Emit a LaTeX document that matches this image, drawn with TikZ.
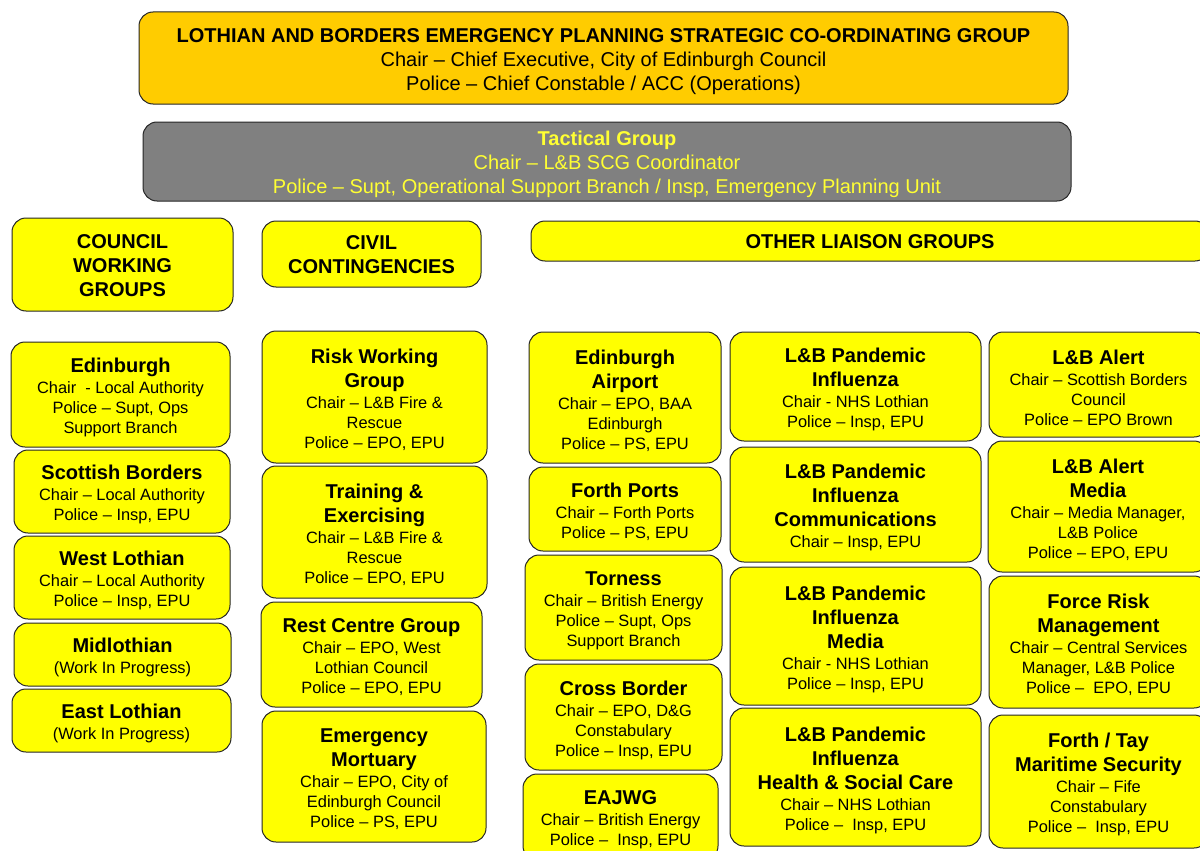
\documentclass[tikz,border=0pt]{standalone}
\usepackage{fontspec}
\setmainfont{Liberation Sans}
\definecolor{scgorange}{HTML}{FFCC00}
\definecolor{tacgray}{HTML}{808080}
\definecolor{grpyellow}{HTML}{FFFF00}
\definecolor{tacyellow}{HTML}{FFFF33}
% body text of the group boxes
\newcommand\grpfont{\lineskiplimit=-100pt\fontsize{16.4}{20}\selectfont}
% wide text of the two header boxes
\newcommand\wideFont{\lineskiplimit=-100pt\fontsize{20}{24}\selectfont}
% bold group title line
\newcommand\hdline[1]{{\fontsize{20}{24}\selectfont\bfseries #1}}
% \orgbox[style]{name}{left}{top}{right}{bottom}{text}
% draws the rounded box, then its text as a second node on top
\newcommand\orgbox[7][grp]{%
  \node[#1, minimum width={#5-#3}, minimum height={#6-#4}] (#2)
    at ({(#3+#5)/2},{(#4+#6)/2}) {};
  \node[#1 text] (#2-text) at (#2.center) {#7};}

\begin{document}
\begin{tikzpicture}[x=1pt,y=-1pt,
  grp/.style={draw=black!85, line width=1pt, fill=grpyellow,
    rounded corners=14pt, inner sep=0pt},
  base text/.style={inner sep=0pt, align=center, font=\grpfont},
  grp text/.style={base text, yshift=-3pt},
  titlebox/.style={grp},
  titlebox text/.style={base text, font=\wideFont\bfseries, yshift=-1pt},
  topbox/.style={grp, fill=scgorange},
  topbox text/.style={base text, font=\wideFont, yshift=-4pt},
  tacbox/.style={grp, fill=tacgray},
  tacbox text/.style={base text, text=tacyellow, font=\wideFont, yshift=-3pt}]
\useasboundingbox (0,0) rectangle (1200,851);
\clip (0,0) rectangle (1200,851);

% strategic and tactical levels
\orgbox[topbox]{scg}{139}{12}{1068}{104}{\textbf{LOTHIAN AND BORDERS EMERGENCY PLANNING STRATEGIC CO-ORDINATING GROUP}\\Chair – Chief Executive, City of Edinburgh Council\\Police – Chief Constable / ACC (Operations)}
\orgbox[tacbox]{tac}{143}{122}{1071}{201}{\textbf{Tactical Group}\\Chair – L\&B SCG Coordinator\\Police – Supt, Operational Support Branch / Insp, Emergency Planning Unit}

% column headings
\orgbox[titlebox]{cwg}{12}{218}{233}{311}{COUNCIL\\WORKING\\GROUPS}
\orgbox[titlebox]{civ}{262}{221}{481}{287}{CIVIL\\CONTINGENCIES}
\orgbox[titlebox]{olg}{531}{221}{1209}{261}{OTHER LIAISON GROUPS}

% council working groups
\orgbox{edi}{11}{342}{230}{447}{\hdline{Edinburgh}\\[1pt]Chair\ \ - Local Authority\\Police – Supt, Ops\\Support Branch}
\orgbox{sbo}{14}{450}{230}{533}{\hdline{Scottish Borders}\\[1pt]Chair – Local Authority\\Police – Insp, EPU}
\orgbox{wlo}{14}{536}{230}{619}{\hdline{West Lothian}\\[1pt]Chair – Local Authority\\Police – Insp, EPU}
\orgbox{mid}{14}{623}{231}{686}{\hdline{Midlothian}\\[1pt](Work In Progress)}
\orgbox{elo}{12}{689}{231}{752}{\hdline{East Lothian}\\[1pt](Work In Progress)}

% civil contingencies
\orgbox{rwg}{262}{331}{487}{463}{\hdline{Risk Working}\\[4pt]\hdline{Group}\\[1pt]Chair – L\&B Fire \&\\Rescue\\Police – EPO, EPU}
\orgbox{tex}{262}{466}{487}{598}{\hdline{Training \&}\\[4pt]\hdline{Exercising}\\[1pt]Chair – L\&B Fire \&\\Rescue\\Police – EPO, EPU}
\orgbox{rcg}{261}{602}{482}{707}{\hdline{Rest Centre Group}\\[1pt]Chair – EPO, West\\Lothian Council\\Police – EPO, EPU}
\orgbox{emo}{262}{711}{486}{842}{\hdline{Emergency}\\[4pt]\hdline{Mortuary}\\[1pt]Chair – EPO, City of\\Edinburgh Council\\Police – PS, EPU}

% other liaison groups, first column
\orgbox{air}{529}{332}{721}{463}{\hdline{Edinburgh}\\[4pt]\hdline{Airport}\\[1pt]Chair – EPO, BAA\\Edinburgh\\Police – PS, EPU}
\orgbox{fpo}{529}{467}{721}{551}{\hdline{Forth Ports}\\[1pt]Chair – Forth Ports\\Police – PS, EPU}
\orgbox{tor}{525}{555}{722}{660}{\hdline{Torness}\\[1pt]Chair – British Energy\\Police – Supt, Ops\\Support Branch}
\orgbox{cbo}{525}{664}{722}{770}{\hdline{Cross Border}\\[1pt]Chair – EPO, D\&G\\Constabulary\\Police – Insp, EPU}
\orgbox{eaj}{523}{774}{718}{860}{\hdline{EAJWG}\\[1pt]Chair – British Energy\\Police –\ \ Insp, EPU}

% other liaison groups, second column
\orgbox{pin}{730}{332}{981}{441}{\hdline{L\&B Pandemic}\\[4pt]\hdline{Influenza}\\[1pt]Chair - NHS Lothian\\Police – Insp, EPU}
\orgbox{pic}{730}{447}{981}{562}{\hdline{L\&B Pandemic}\\[4pt]\hdline{Influenza}\\[4pt]\hdline{Communications}\\[1pt]Chair – Insp, EPU}
\orgbox{pim}{730}{567}{981}{705}{\hdline{L\&B Pandemic}\\[4pt]\hdline{Influenza}\\[4pt]\hdline{Media}\\[1pt]Chair - NHS Lothian\\Police – Insp, EPU}
\orgbox{pih}{730}{708}{981}{846}{\hdline{L\&B Pandemic}\\[4pt]\hdline{Influenza}\\[4pt]\hdline{Health \& Social Care}\\[1pt]Chair – NHS Lothian\\Police –\ \ Insp, EPU}

% other liaison groups, third column
\orgbox{ala}{989}{332}{1208}{437}{\hdline{L\&B Alert}\\[1pt]Chair – Scottish Borders\\Council\\Police – EPO Brown}
\orgbox{alm}{988}{441}{1208}{572}{\hdline{L\&B Alert}\\[4pt]\hdline{Media}\\[1pt]Chair – Media Manager,\\L\&B Police\\Police – EPO, EPU}
\orgbox{frm}{989}{576}{1208}{708}{\hdline{Force Risk}\\[4pt]\hdline{Management}\\[1pt]Chair – Central Services\\Manager, L\&B Police\\Police –\ \ EPO, EPU}
\orgbox{fta}{989}{715}{1208}{848}{\hdline{Forth / Tay}\\[4pt]\hdline{Maritime Security}\\[1pt]Chair – Fife\\Constabulary\\Police –\ \ Insp, EPU}
\end{tikzpicture}
\end{document}
